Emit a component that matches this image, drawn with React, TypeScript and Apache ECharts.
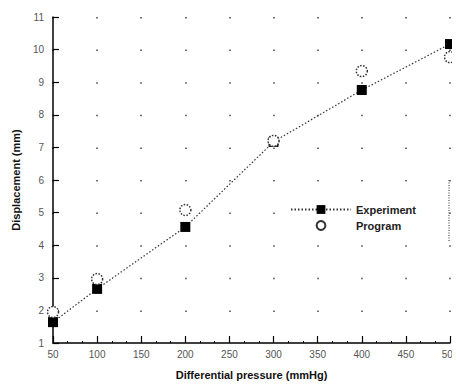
import React, { useEffect, useRef } from "react";
import * as echarts from "echarts";

const pressures = [50, 100, 200, 300, 400, 500];
const experiment = [1.64, 2.66, 4.56, 7.17, 8.76, 10.17];
const program = [1.95, 2.96, 5.08, 7.2, 9.34, 9.77];
const seriesNames = ["Experiment", "Program"];

export default function App() {
  const ref = useRef<HTMLDivElement>(null);
  useEffect(() => {
    if (!ref.current) return;
    const chart = echarts.init(ref.current, undefined, { renderer: "svg" });
    const font = "Liberation Sans, Arial, sans-serif";
    chart.setOption({
      animation: false,
      backgroundColor: "#fff",
      grid: { left: 45, right: 10, top: 9, bottom: 42, outerBoundsMode: "none", containLabel: false },
      legend: {
        orient: "vertical",
        left: 277,
        top: 191,
        itemWidth: 60,
        itemHeight: 11,
        itemGap: 5,
        textStyle: { fontFamily: font, fontSize: 11, fontWeight: "bold", color: "#222" },
        data: seriesNames,
      },
      xAxis: {
        type: "value",
        min: 50,
        max: 500,
        interval: 50,
        name: "Differential pressure (mmHg)",
        nameLocation: "middle",
        nameGap: 26,
        nameTextStyle: { fontFamily: font, fontSize: 11, fontWeight: "bold", color: "#111" },
        axisLine: { lineStyle: { color: "#000", width: 1.5 } },
        axisTick: { inside: true, length: 7, lineStyle: { color: "#000", width: 1.2 } },
        minorTick: { show: true, splitNumber: 3, length: 2, lineStyle: { color: "#000" } },
        axisLabel: { fontFamily: font, fontSize: 10, color: "#555", margin: 6 },
        splitLine: {
          show: true,
          lineStyle: { color: "#444", width: 1.5, type: [1.5, 31.1] },
        },
      },
      yAxis: {
        type: "value",
        min: 1,
        max: 11,
        interval: 1,
        name: "Displacement (mm)",
        nameLocation: "middle",
        nameGap: 31,
        nameTextStyle: { fontFamily: font, fontSize: 11, fontWeight: "bold", color: "#111" },
        axisLine: { show: true, lineStyle: { color: "#000", width: 1.5 } },
        axisTick: { show: true, inside: true, length: 6, lineStyle: { color: "#000", width: 1.2 } },
        axisLabel: { fontFamily: font, fontSize: 10, color: "#555", margin: 9 },
        splitLine: { show: false },
      },
      graphic: [
        {
          type: "line",
          shape: { x1: 441, y1: 172, x2: 441, y2: 234 },
          style: { stroke: "#333", lineWidth: 1, lineDash: [1, 1.5] },
        },
      ],
      series: [
        {
          name: seriesNames[0],
          type: "line",
          data: pressures.map((p, i) => [p, experiment[i]]),
          symbol: "rect",
          symbolSize: 10,
          itemStyle: { color: "#000" },
          lineStyle: { color: "#333", width: 1.2, type: [1.5, 2] },
          z: 3,
        },
        {
          name: seriesNames[1],
          type: "line",
          data: pressures.map((p, i) => [p, program[i]]),
          symbol: "circle",
          symbolSize: 11,
          itemStyle: { color: "#fff", borderColor: "#333", borderWidth: 1.5, borderType: [1.5, 1.5] },
          lineStyle: { width: 0, opacity: 0 },
          z: 4,
        },
      ],
    });
    return () => chart.dispose();
  }, []);
  return <div ref={ref} style={{ width: 452, height: 377 }} />;
}
